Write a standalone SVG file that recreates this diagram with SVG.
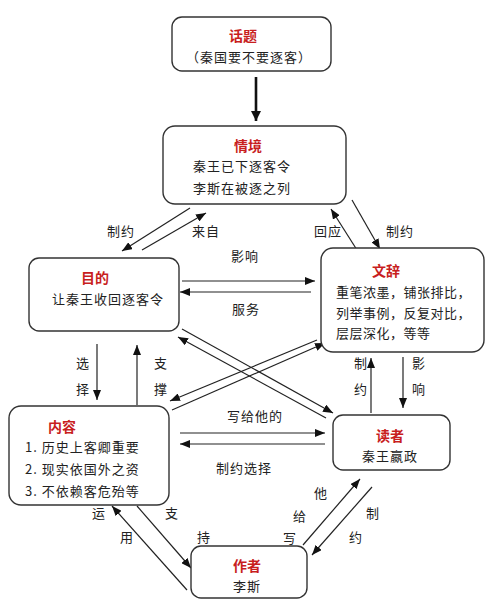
<svg xmlns="http://www.w3.org/2000/svg" width="500" height="610" viewBox="0 0 500 610">
<defs>
<style>
.box{fill:#fff;stroke:#333;stroke-width:1.4}
.t{font-family:"Noto Sans CJK SC","Liberation Sans",sans-serif;font-size:13px;fill:#222;letter-spacing:1px}
.h{font-family:"Noto Sans CJK SC","Liberation Sans",sans-serif;font-size:14px;font-weight:bold;fill:#c81e1e;text-anchor:middle}
.c{text-anchor:middle}
.ln{stroke:#222;stroke-width:1.2;fill:none;marker-end:url(#ah)}
.thick{stroke:#111;stroke-width:2.6;fill:none;marker-end:url(#ahb)}
</style>
<marker id="ah" markerUnits="userSpaceOnUse" markerWidth="10" markerHeight="8" refX="10" refY="4" orient="auto">
<path d="M0,0 L10,4 L0,8 z" fill="#111"/>
</marker>
<marker id="ahb" markerUnits="userSpaceOnUse" markerWidth="10" markerHeight="10" refX="10" refY="5" orient="auto">
<path d="M0,0 L10,5 L0,10 z" fill="#111"/>
</marker>
</defs>
<rect width="500" height="610" fill="#fff"/>

<g id="connectors">
<line class="thick" x1="256" y1="77" x2="256" y2="121"/>
<line class="ln" x1="190" y1="208" x2="122" y2="251"/>
<line class="ln" x1="142" y1="250" x2="206" y2="213"/>
<line class="ln" x1="357" y1="250" x2="331" y2="209"/>
<line class="ln" x1="352" y1="200" x2="380" y2="249"/>
<line class="ln" x1="182" y1="281" x2="315" y2="281"/>
<line class="ln" x1="311" y1="292" x2="180" y2="292"/>
<line class="ln" x1="97" y1="344" x2="97" y2="400"/>
<line class="ln" x1="137" y1="405" x2="137" y2="345"/>
<line class="ln" x1="182" y1="329" x2="333" y2="413"/>
<line class="ln" x1="326" y1="418" x2="178" y2="337"/>
<line class="ln" x1="172" y1="410" x2="325" y2="343"/>
<line class="ln" x1="317" y1="340" x2="170" y2="401"/>
<line class="ln" x1="180" y1="433" x2="325" y2="433"/>
<line class="ln" x1="325" y1="444" x2="180" y2="444"/>
<line class="ln" x1="187" y1="590" x2="112" y2="506"/>
<line class="ln" x1="137" y1="506" x2="191" y2="568"/>
<line class="ln" x1="303" y1="545" x2="360" y2="479"/>
<line class="ln" x1="372" y1="487" x2="312" y2="555"/>
<line class="ln" x1="371" y1="413" x2="371" y2="358"/>
<line class="ln" x1="403" y1="357" x2="403" y2="408"/>
<g class="t c">
<text x="121" y="236">制约</text>
<text x="206" y="236">来自</text>
<text x="328" y="236">回应</text>
<text x="400" y="236">制约</text>
<text x="245" y="261">影响</text>
<text x="246" y="314">服务</text>
<text x="83" y="368">选</text>
<text x="83" y="394">择</text>
<text x="161" y="368">支</text>
<text x="161" y="394">撑</text>
<text x="361" y="368">制</text>
<text x="361" y="394">约</text>
<text x="419" y="368">影</text>
<text x="419" y="394">响</text>
<text x="255" y="421">写给他的</text>
<text x="244" y="473">制约选择</text>
<text x="99" y="518">运</text>
<text x="127" y="542">用</text>
<text x="172" y="518">支</text>
<text x="204" y="542">持</text>
<text x="321" y="498">他</text>
<text x="300" y="521">给</text>
<text x="290" y="543">写</text>
<text x="373" y="518">制</text>
<text x="356" y="542">约</text>
</g>
</g>

<g id="topic">
<rect class="box" x="172" y="17" width="159" height="54" rx="10"/>
<text class="h" x="243" y="41">话题</text>
<text class="t c" x="249" y="62">（秦国要不要逐客）</text>
</g>

<g id="situation">
<rect class="box" x="163" y="126" width="183" height="78" rx="12"/>
<text class="h" x="248" y="151">情境</text>
<text class="t" x="193" y="171">秦王已下逐客令</text>
<text class="t" x="193" y="193">李斯在被逐之列</text>
</g>

<g id="purpose">
<rect class="box" x="29" y="258" width="150" height="73" rx="10"/>
<text class="h" x="95" y="283">目的</text>
<text class="t" x="52" y="304">让秦王收回逐客令</text>
</g>

<g id="style">
<rect class="box" x="321" y="248" width="163" height="104" rx="12"/>
<text class="h" x="386" y="276">文辞</text>
<text class="t" x="336" y="297" style="letter-spacing:0.5px">重笔浓墨，铺张排比，</text>
<text class="t" x="336" y="318" style="letter-spacing:0.5px">列举事例，反复对比，</text>
<text class="t" x="336" y="338" style="letter-spacing:0.5px">层层深化，等等</text>
</g>

<g id="content">
<rect class="box" x="9" y="406" width="160" height="99" rx="12"/>
<text class="h" x="62" y="432">内容</text>
<text class="t" x="25" y="452">1. 历史上客卿重要</text>
<text class="t" x="25" y="474">2. 现实依国外之资</text>
<text class="t" x="25" y="496">3. 不依赖客危殆等</text>
</g>

<g id="reader">
<rect class="box" x="333" y="415" width="117" height="55" rx="10"/>
<text class="h" x="390" y="441">读者</text>
<text class="t c" x="390" y="461">秦王嬴政</text>
</g>

<g id="author">
<rect class="box" x="191" y="546" width="116" height="52" rx="10"/>
<text class="h" x="247" y="571">作者</text>
<text class="t c" x="247" y="591">李斯</text>
</g>
</svg>
